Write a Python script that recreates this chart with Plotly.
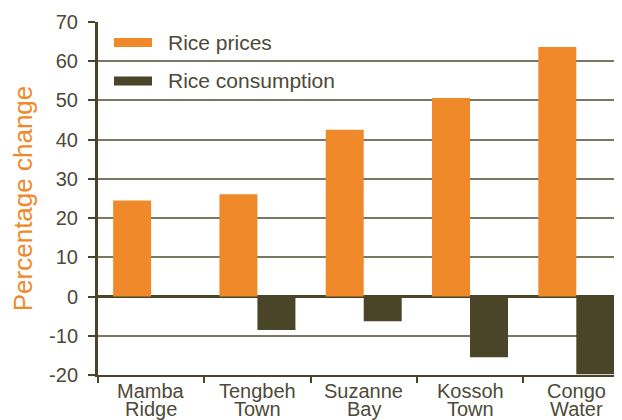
import plotly.graph_objects as go

cat_line1 = ["Mamba", "Tengbeh", "Suzanne", "Kossoh", "Congo"]
cat_line2 = ["Ridge", "Town", "Bay", "Town", "Water"]
categories = [a + " " + b for a, b in zip(cat_line1, cat_line2)]
rice_prices = [24.5, 26.1, 42.5, 50.6, 63.6]
rice_consumption = [0, -8.5, -6.3, -15.5, -19.8]
y_ticks = [-20, -10, 0, 10, 20, 30, 40, 50, 60, 70]
y_tick_labels = ["-20", "-10", "0", "10", "20", "30", "40", "50", "60", "70"]

ORANGE = "#f0892a"
DARK = "#4a4529"
TEXT = "#4d4a38"
GRID = "#7a7862"
FONT = "Liberation Sans, Arial, sans-serif"

# page offset of 8px (body margin) is compensated here
OFF = 8
PL, PT, PW, PH = 98 - OFF, 22 - OFF, 524, 353

fig = go.Figure()
fig.add_trace(go.Bar(x=categories, y=rice_prices, name="Rice prices",
                     marker=dict(color=ORANGE, line=dict(width=0))))
fig.add_trace(go.Bar(x=categories, y=rice_consumption, name="Rice consumption",
                     marker=dict(color=DARK, line=dict(width=0))))

fig.update_layout(
    width=622 - OFF, height=420 - OFF,
    margin=dict(l=PL, r=0, t=PT, b=420 - OFF - PT - PH, pad=0),
    paper_bgcolor="white", plot_bgcolor="white",
    barmode="group", bargap=0.285, bargroupgap=0,
    showlegend=False,
    font=dict(family=FONT, color=TEXT, size=19),
)
fig.update_xaxes(
    range=[-0.5, 4.43], automargin=False,
    tickson="boundaries", ticks="outside", ticklen=6, tickwidth=2, tickcolor=DARK,
    showline=True, linecolor=DARK, linewidth=2,
    showgrid=False, showticklabels=False,
)
fig.update_yaxes(
    range=[-20, 70], automargin=False,
    tickvals=y_ticks, ticktext=y_tick_labels,
    ticks="outside", ticklen=7, tickwidth=2, tickcolor=DARK,
    ticklabelstandoff=6,
    showline=True, linecolor=DARK, linewidth=3,
    showgrid=True, gridcolor=GRID, gridwidth=1.5,
    zeroline=True, zerolinecolor=DARK, zerolinewidth=2.5,
    tickfont=dict(size=20, color=TEXT),
    title=dict(text="Percentage change", font=dict(size=26, color=ORANGE), standoff=12),
)

def yfrac(ypage):
    return 1 - (ypage - 22) / PH

def xfrac(xpage):
    return (xpage - 98) / PW

# category labels (two tight lines)
for cat, l1, l2 in zip(categories, cat_line1, cat_line2):
    for txt, ypx in ((l1, 391), (l2, 409)):
        fig.add_annotation(xref="x", yref="paper", x=cat, y=yfrac(ypx),
                           text=txt, showarrow=False, xanchor="center", yanchor="middle",
                           font=dict(size=20, color=TEXT, family=FONT))

# legend drawn inside plot
legend_items = [("Rice prices", ORANGE, 42.5), ("Rice consumption", DARK, 81)]
for label, color, ypx in legend_items:
    yf = yfrac(ypx)
    fig.add_shape(type="rect", xref="paper", yref="paper",
                  x0=xfrac(114), x1=xfrac(152),
                  y0=yf - 4.5 / PH, y1=yf + 4.5 / PH,
                  fillcolor=color, line=dict(width=0))
    fig.add_annotation(xref="paper", yref="paper", x=xfrac(166), y=yf,
                       text=label, showarrow=False, xanchor="left", yanchor="middle",
                       font=dict(size=21, color=TEXT, family=FONT))

fig.write_html("out.html")
